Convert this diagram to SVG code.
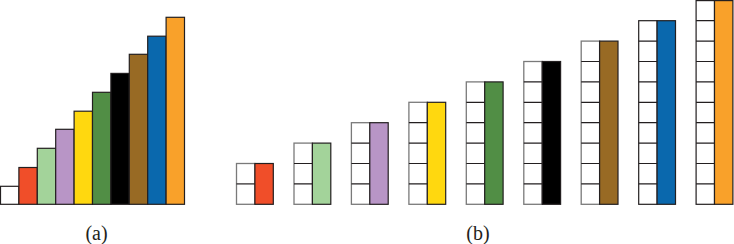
<svg xmlns="http://www.w3.org/2000/svg" width="734" height="244" viewBox="0 0 734 244">
<style>
rect{stroke:#231f20;stroke-width:1.2}
.w{fill:#fff}
.wb{fill:#fff;stroke:#7a7a7a;stroke-width:1.3}
.cl{stroke:#231f20;stroke-width:1.2;fill:none}
.c1{fill:#f04e29}.c2{fill:#a3d39a}.c3{fill:#b895c6}.c4{fill:#ffd80f}.c5{fill:#518e45}
.c6{fill:#000}.c7{fill:#986a24}.c8{fill:#0a68ad}.c9{fill:#f9a12a}
text{font-family:"Liberation Serif","Times New Roman",serif;font-size:20px;fill:#231f20;text-anchor:middle}
</style>
<g id="panel-a">
<rect class="w" x="0.5" y="186.3" width="18.4" height="18"/>
<rect class="c1" x="18.9" y="167.5" width="18.4" height="36.8"/>
<rect class="c2" x="37.3" y="148.3" width="18.4" height="56"/>
<rect class="c3" x="55.7" y="129.3" width="18.4" height="75"/>
<rect class="c4" x="74.1" y="111.2" width="18.4" height="93.1"/>
<rect class="c5" x="92.5" y="92.3" width="18.4" height="112"/>
<rect class="c6" x="110.9" y="73.4" width="18.4" height="130.9"/>
<rect class="c7" x="129.3" y="54.3" width="18.4" height="150"/>
<rect class="c8" x="147.7" y="36.2" width="18.4" height="168.1"/>
<rect class="c9" x="166.1" y="17.3" width="18.4" height="187"/>
</g>
<g id="panel-b">
<g id="rod2">
<rect class="wb" x="236.5" y="163.5" width="18.4" height="40.8"/>
<rect class="c1" x="254.9" y="163.5" width="18.4" height="40.8"/>
<path class="cl" d="M236.5 183.9H254.9"/>
</g>
<g id="rod3">
<rect class="wb" x="294" y="143.1" width="18.4" height="61.2"/>
<rect class="c2" x="312.4" y="143.1" width="18.4" height="61.2"/>
<path class="cl" d="M294 183.9H312.4M294 163.5H312.4"/>
</g>
<g id="rod4">
<rect class="wb" x="351.4" y="122.7" width="18.4" height="81.6"/>
<rect class="c3" x="369.8" y="122.7" width="18.4" height="81.6"/>
<path class="cl" d="M351.4 183.9H369.8M351.4 163.5H369.8M351.4 143.1H369.8"/>
</g>
<g id="rod5">
<rect class="wb" x="408.9" y="102.3" width="18.4" height="102"/>
<rect class="c4" x="427.3" y="102.3" width="18.4" height="102"/>
<path class="cl" d="M408.9 183.9H427.3M408.9 163.5H427.3M408.9 143.1H427.3M408.9 122.7H427.3"/>
</g>
<g id="rod6">
<rect class="wb" x="466.3" y="81.9" width="18.4" height="122.4"/>
<rect class="c5" x="484.7" y="81.9" width="18.4" height="122.4"/>
<path class="cl" d="M466.3 183.9H484.7M466.3 163.5H484.7M466.3 143.1H484.7M466.3 122.7H484.7M466.3 102.3H484.7"/>
</g>
<g id="rod7">
<rect class="wb" x="523.8" y="61.5" width="18.4" height="142.8"/>
<rect class="c6" x="542.2" y="61.5" width="18.4" height="142.8"/>
<path class="cl" d="M523.8 183.9H542.2M523.8 163.5H542.2M523.8 143.1H542.2M523.8 122.7H542.2M523.8 102.3H542.2M523.8 81.9H542.2"/>
</g>
<g id="rod8">
<rect class="wb" x="581.2" y="41.1" width="18.4" height="163.2"/>
<rect class="c7" x="599.6" y="41.1" width="18.4" height="163.2"/>
<path class="cl" d="M581.2 183.9H599.6M581.2 163.5H599.6M581.2 143.1H599.6M581.2 122.7H599.6M581.2 102.3H599.6M581.2 81.9H599.6M581.2 61.5H599.6"/>
</g>
<g id="rod9">
<rect class="w" x="638.7" y="20.7" width="18.4" height="183.6"/>
<rect class="c8" x="657.1" y="20.7" width="18.4" height="183.6"/>
<path class="cl" d="M638.7 183.9H657.1M638.7 163.5H657.1M638.7 143.1H657.1M638.7 122.7H657.1M638.7 102.3H657.1M638.7 81.9H657.1M638.7 61.5H657.1M638.7 41.1H657.1"/>
</g>
<g id="rod10">
<rect class="w" x="696.1" y="0.6" width="18.4" height="203.7"/>
<rect class="c9" x="714.5" y="0.6" width="18.4" height="203.7"/>
<path class="cl" d="M696.1 183.9H714.5M696.1 163.5H714.5M696.1 143.1H714.5M696.1 122.7H714.5M696.1 102.3H714.5M696.1 81.9H714.5M696.1 61.5H714.5M696.1 41.1H714.5M696.1 20.7H714.5"/>
</g>
</g>
<g id="labels">
<text x="96.5" y="240">(a)</text>
<text x="478" y="240">(b)</text>
</g>
</svg>
